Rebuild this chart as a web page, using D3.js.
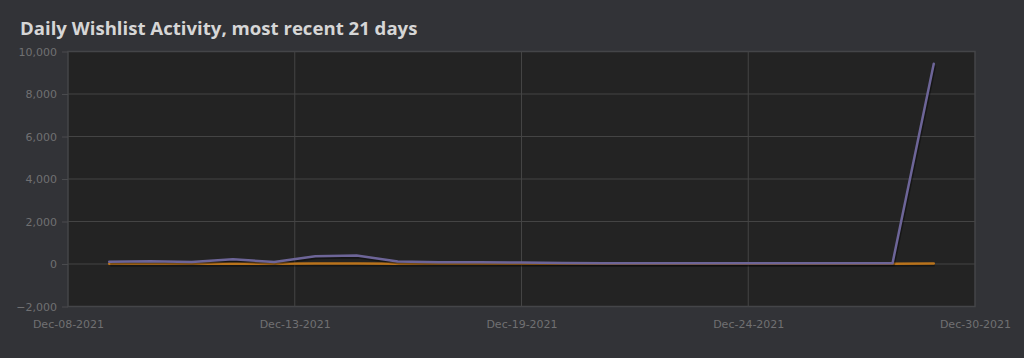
<!DOCTYPE html>
<html>
<head>
<meta charset="utf-8">
<script src="https://cdn.jsdelivr.net/npm/d3@7"></script>
<style>
  html, body { margin: 0; padding: 0; background: #323337; }
  svg { display: block; }
</style>
</head>
<body>
<svg id="chart" width="1024" height="358"></svg>
<script>
// ==============================
// DATA
// ==============================

const days = [
  "2021-12-09", "2021-12-10", "2021-12-11", "2021-12-12", "2021-12-13",
  "2021-12-14", "2021-12-15", "2021-12-16", "2021-12-17", "2021-12-18",
  "2021-12-19", "2021-12-20", "2021-12-21", "2021-12-22", "2021-12-23",
  "2021-12-24", "2021-12-25", "2021-12-26", "2021-12-27", "2021-12-28",
  "2021-12-29"
];

// Wishlist additions (purple)
const additions = [
  110, 130, 90, 220, 90,
  360, 400, 120, 80, 80,
  70, 50, 40, 40, 40,
  40, 40, 40, 40, 40,
  9420
];

// Deletions / other (orange)
const deletions = [
  15, 15, 10, 15, 10,
  20, 20, 15, 10, 10,
  10, 10, 10, 10, 10,
  10, 10, 10, 10, 10,
  20
];

const yTicks = [-2000, 0, 2000, 4000, 6000, 8000, 10000];
const xStart = "2021-12-08";
const xEnd = "2021-12-30";

// ==============================
// SETUP
// ==============================

const parseDay = d3.utcParse("%Y-%m-%d");
const formatDay = d3.utcFormat("%b-%d-%Y");

const svg = d3.select("#chart");
const plot = { left: 68, right: 975, top: 51.5, bottom: 306.5 };

const x = d3.scaleUtc()
  .domain([parseDay(xStart), parseDay(xEnd)])
  .range([plot.left, plot.right]);

const y = d3.scaleLinear()
  .domain([-2000, 10000])
  .range([plot.bottom, plot.top]);

// 5 evenly spaced ticks across the domain
const [d0, d1] = x.domain();
const xTicks = d3.range(5).map(i => new Date(+d0 + (d1 - d0) * i / 4));

// Title
svg.append("text")
  .attr("x", 20)
  .attr("y", 35)
  .attr("fill", "#d6d6d6")
  .attr("font-family", "'Open Sans', Arial, sans-serif")
  .attr("font-size", "18.6px")
  .attr("font-weight", "700")
  .text("Daily Wishlist Activity, most recent 21 days");

// Plot background
svg.append("rect")
  .attr("x", plot.left)
  .attr("y", plot.top)
  .attr("width", plot.right - plot.left)
  .attr("height", plot.bottom - plot.top)
  .attr("fill", "#232323")
  .attr("stroke", "#444548")
  .attr("stroke-width", 1.5);

// Horizontal grid
svg.append("g")
  .selectAll("line")
  .data(yTicks.slice(1, -1))
  .enter()
  .append("line")
  .attr("x1", plot.left)
  .attr("x2", plot.right)
  .attr("y1", d => y(d))
  .attr("y2", d => y(d))
  .attr("stroke", "#444444")
  .attr("stroke-width", 1);

// Vertical grid
svg.append("g")
  .selectAll("line")
  .data(xTicks.slice(1, -1))
  .enter()
  .append("line")
  .attr("x1", d => x(d))
  .attr("x2", d => x(d))
  .attr("y1", plot.top)
  .attr("y2", plot.bottom)
  .attr("stroke", "#444444")
  .attr("stroke-width", 1);

// Y axis
const yAxis = svg.append("g")
  .attr("transform", `translate(${plot.left},0)`)
  .call(d3.axisLeft(y).tickValues(yTicks).tickSize(6).tickPadding(5).tickFormat(d3.format(",")));

yAxis.select(".domain").remove();
yAxis.selectAll("line").attr("stroke", "#4a4b4e");
yAxis.selectAll("text")
  .attr("fill", "#707072")
  .attr("font-family", "'DejaVu Sans', sans-serif")
  .attr("font-size", "11px");

// X axis
const xAxis = svg.append("g")
  .attr("transform", `translate(0,${plot.bottom})`)
  .call(d3.axisBottom(x).tickValues(xTicks).tickSize(0).tickPadding(14).tickFormat(formatDay));

xAxis.select(".domain").remove();
xAxis.selectAll("text")
  .attr("fill", "#707072")
  .attr("font-family", "'DejaVu Sans', sans-serif")
  .attr("font-size", "11px");

// ==============================
// LINES
// ==============================

const dates = days.map(parseDay);

const line = d3.line()
  .x((d, i) => x(dates[i]))
  .y(d => y(d));

function drawSeries(values, color) {
  // shadow
  svg.append("path")
    .datum(values)
    .attr("d", line)
    .attr("fill", "none")
    .attr("stroke", "#000000")
    .attr("stroke-opacity", 0.35)
    .attr("stroke-width", 3)
    .attr("stroke-linejoin", "round")
    .attr("transform", "translate(1,1.5)");

  svg.append("path")
    .datum(values)
    .attr("d", line)
    .attr("fill", "none")
    .attr("stroke", color)
    .attr("stroke-width", 2.5)
    .attr("stroke-linejoin", "round")
    .attr("stroke-linecap", "round");
}

drawSeries(deletions, "#b9731c");
drawSeries(additions, "#6d6598");
</script>
</body>
</html>
